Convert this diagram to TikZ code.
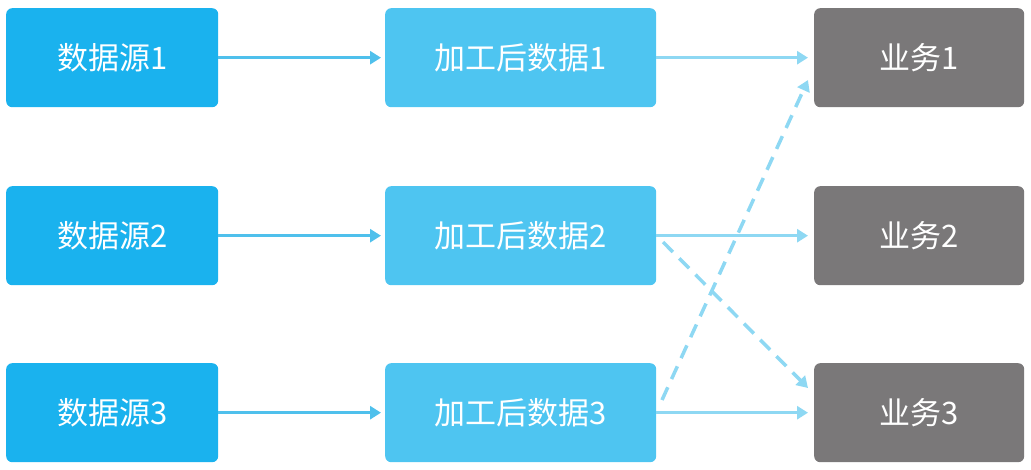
\documentclass[tikz,border=0pt]{standalone}
\usepackage{fontspec}
\newfontfamily\cjk{Noto Sans CJK SC}
\usetikzlibrary{arrows.meta}
\definecolor{srcc}{HTML}{1AB2EE}
\definecolor{midc}{HTML}{4EC5F1}
\definecolor{bizc}{HTML}{7A7879}
\definecolor{arrA}{HTML}{4FC0EC}
\definecolor{arrB}{HTML}{8ED8F3}
\tikzset{
  box/.style={rounded corners=6pt, inner sep=0pt, text=white, font=\cjk\fontsize{31}{34}\selectfont, anchor=north west},
  srcbox/.style={box, fill=srcc, minimum width=212pt, minimum height=99pt},
  midbox/.style={box, fill=midc, minimum width=271pt, minimum height=99pt},
  bizbox/.style={box, fill=bizc, minimum width=210pt, minimum height=99pt},
  arrowA/.style={draw=arrA, line width=3pt, -{Triangle[length=11pt,width=13pt]}, shorten >=4pt},
  arrowB/.style={draw=arrB, line width=3pt, -{Triangle[length=11pt,width=13pt]}, shorten >=6pt},
  dasharrow/.style={draw=arrB, line width=3.5pt, dash pattern=on 14pt off 9pt, -{Triangle[length=11pt,width=13pt]}}
}
\begin{document}
\begin{tikzpicture}[x=1pt,y=-1pt]
\useasboundingbox (0,0) rectangle (1031,470);
\node[srcbox] (s1) at (6,8) {数据源1};
\node[srcbox] (s2) at (6,186) {数据源2};
\node[srcbox] (s3) at (6,363) {数据源3};
\node[midbox] (m1) at (385,8) {加工后数据1};
\node[midbox] (m2) at (385,186) {加工后数据2};
\node[midbox] (m3) at (385,363) {加工后数据3};
\node[bizbox] (b1) at (814,8) {业务1};
\node[bizbox] (b2) at (814,186) {业务2};
\node[bizbox] (b3) at (814,363) {业务3};
\draw[arrowA] (s1.east) -- (m1.west);
\draw[arrowA] (s2.east) -- (m2.west);
\draw[arrowA] (s3.east) -- (m3.west);
\draw[arrowB] (m1.east) -- (b1.west);
\draw[arrowB] (m2.east) -- (b2.west);
\draw[arrowB] (m3.east) -- (b3.west);
\coordinate (d1s) at (663,242);
\coordinate (d1e) at (808,388);
\coordinate (d2s) at (662,400);
\coordinate (d2e) at (808,80);
\draw[dasharrow] (d1s) -- (d1e);
\draw[dasharrow] (d2s) -- (d2e);
\end{tikzpicture}
\end{document}
